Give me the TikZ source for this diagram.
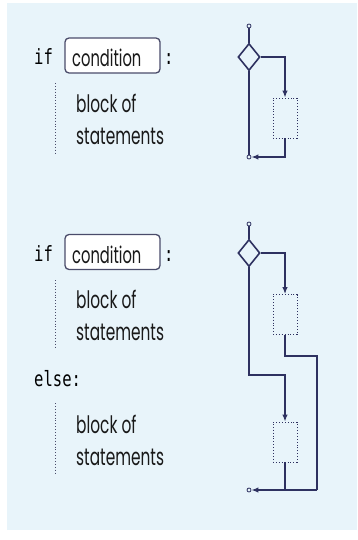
\documentclass[tikz,border=0pt]{standalone}
\usepackage{fontspec}
\setmainfont{Poppins}
\newfontfamily\narrowsans[FakeStretch=0.64]{Poppins}
\newfontfamily\narrowmono[FakeStretch=0.74]{DejaVu Sans Mono}
\usetikzlibrary{shapes.geometric,arrows.meta}
\definecolor{bg}{HTML}{E8F4FA}
\definecolor{ln}{HTML}{2E3160}
\definecolor{bd}{HTML}{4A4C6A}
\tikzset{
  x=1pt,y=-1pt,
  flow/.style={draw=ln,line width=1.3pt},
  arr/.style={flow,-{Latex[length=7pt,width=5.5pt]}},
  term/.style={circle,draw=ln,line width=0.8pt,fill=bg,minimum size=4pt,inner sep=0pt},
  dec/.style={diamond,draw=ln,line width=1.6pt,fill=bg,minimum width=22pt,minimum height=27pt,inner sep=0pt},
  blk/.style={rectangle,draw=ln,line width=0.9pt,dotted,minimum width=24pt,minimum height=40pt,inner sep=0pt},
  kw/.style={font=\narrowmono\fontsize{21}{24}\selectfont,text=black,anchor=base west,inner sep=0pt},
  txt/.style={font=\narrowsans\fontsize{24}{28}\selectfont,text=black!90,anchor=base west,inner sep=0pt},
  cond/.style={rectangle,rounded corners=4pt,draw=bd,line width=1.3pt,fill=white,minimum width=95pt,minimum height=35pt,inner sep=0pt},
  condtxt/.style={font=\narrowsans\fontsize{23}{28}\selectfont,text=black!90,anchor=base west,inner sep=0pt},
  vdots/.style={draw=bd,line width=0.9pt,dotted}
}
\begin{document}
\begin{tikzpicture}
\useasboundingbox (0,0) rectangle (357,540);
\fill[bg] (7,3) rectangle (357,530);
% ---- top block ----
\node[kw] (if1) at (34,65) {if};
\node[cond] (c1) at (112.5,55.5) {};
\node[condtxt] (ct1) at (72,67) {condition};
\node[kw] (col1) at (164,65) {:};
\coordinate (v1a) at (55,83);
\coordinate (v1b) at (55,155);
\draw[vdots] (v1a) -- (v1b);
\node[txt] (t1a) at (76,113) {block of};
\node[txt] (t1b) at (76,145) {statements};
% flow 1
\node[term] (s1) at (249,26) {};
\node[dec] (d1) at (249,57) {};
\node[blk] (b1) at (285,118) {};
\node[term] (e1) at (249,157) {};
\coordinate (r1) at (285,157);
\draw[flow] (s1) -- (d1.north);
\draw[arr] (d1.east) -| (b1.north);
\draw[flow] (d1.south) -- (e1);
\draw[arr] (b1.south) -- (r1) -- (e1.east);
% ---- bottom block ----
\node[kw] (if2) at (34,261) {if};
\node[cond] (c2) at (112.5,252) {};
\node[condtxt] (ct2) at (72,263) {condition};
\node[kw] (col2) at (164,261) {:};
\coordinate (v2a) at (55,280);
\coordinate (v2b) at (55,347);
\draw[vdots] (v2a) -- (v2b);
\node[txt] (t2a) at (76,308) {block of};
\node[txt] (t2b) at (76,340) {statements};
\node[kw] (else) at (34,386) {else:};
\coordinate (v3a) at (55,403);
\coordinate (v3b) at (55,475);
\draw[vdots] (v3a) -- (v3b);
\node[txt] (t3a) at (76,433) {block of};
\node[txt] (t3b) at (76,465) {statements};
% flow 2
\node[term] (s2) at (249,224) {};
\node[dec] (d2) at (249,253) {};
\node[blk] (b2) at (285,314.5) {};
\node[blk] (b3) at (285,442) {};
\node[term] (e2) at (249,490) {};
\coordinate (j) at (317,356);
\coordinate (k) at (317,490);
\coordinate (m) at (249,375);
\draw[flow] (s2) -- (d2.north);
\draw[arr] (d2.east) -| (b2.north);
\draw[flow] (b2.south) |- (j) -- (k);
\draw[arr] (d2.south) -- (m) -| (b3.north);
\draw[flow] (b3.south) -- (b3.south |- k);
\draw[arr] (k) -- (e2.east);
\end{tikzpicture}
\end{document}
